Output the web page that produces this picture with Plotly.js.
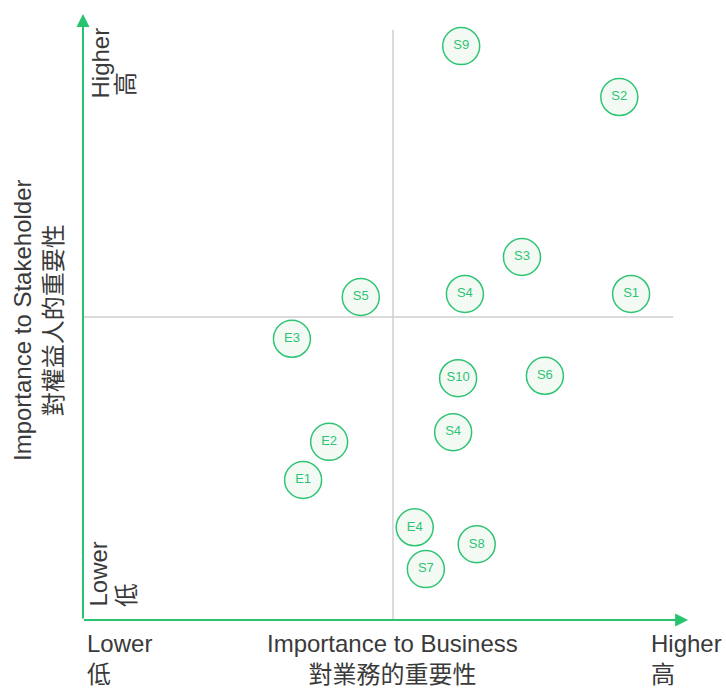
<!DOCTYPE html>
<html>
<head>
<meta charset="utf-8">
<script src="https://cdn.plot.ly/plotly-3.0.1.min.js"></script>
<style>html,body{margin:0;padding:0;background:#fff;}#chart{width:726px;height:689px;}</style>
</head>
<body>
<div id="chart"></div>
<script>
// Data (business importance on x, stakeholder importance on y, 0-10 scale)
const labels = ['S9','S2','S3','S5','S4','S1','E3','S10','S6','S4','E2','E1','E4','S8','S7'];
const businessImportance = [6.10, 8.65, 7.08, 4.48, 6.16, 8.84, 3.37, 6.05, 7.45, 5.97, 3.97, 3.55, 5.35, 6.35, 5.53];
const stakeholderImportance = [9.47, 8.63, 5.99, 5.33, 5.38, 5.38, 4.64, 3.99, 4.03, 3.10, 2.94, 2.31, 1.53, 1.25, 0.84];

const GREEN = '#27c36f';
const FONT = 'Liberation Sans, Arial, Noto Sans CJK TC, sans-serif';
const TEXTC = '#3a3a3a';

// paper helpers: plot area is 620 x 606 px, left 83, bottom 620
const px = v => (v - 83) / 620;
const py = v => (620 - v) / 606;

const trace = {
  type: 'scatter',
  mode: 'markers+text',
  x: businessImportance,
  y: stakeholderImportance,
  text: labels,
  textposition: 'middle center',
  textfont: {family: FONT, size: 13, color: '#2fc474'},
  marker: {size: 37, color: '#f3faf4', line: {color: '#2fc474', width: 1.5}},
  hoverinfo: 'text',
  cliponaxis: false
};

function lbl(text, x, y, xa, ya, align, angle) {
  return {xref: 'paper', yref: 'paper', x: x, y: y, xanchor: xa, yanchor: ya, align: align,
          textangle: angle || 0, showarrow: false, text: text,
          font: {family: FONT, size: 24, color: TEXTC}};
}

const layout = {
  width: 726, height: 689,
  margin: {l: 83, r: 23, t: 14, b: 69},
  paper_bgcolor: '#ffffff', plot_bgcolor: '#ffffff',
  showlegend: false,
  xaxis: {range: [0, 10], showgrid: false, zeroline: false, showticklabels: false, ticks: '', showline: false, fixedrange: true},
  yaxis: {range: [0, 10], showgrid: false, zeroline: false, showticklabels: false, ticks: '', showline: false, fixedrange: true},
  shapes: [
    {type: 'line', xref: 'x', yref: 'y', x0: 5, x1: 5, y0: 0, y1: 9.74, line: {color: '#cfcfcf', width: 1.5}, layer: 'below'},
    {type: 'line', xref: 'x', yref: 'y', x0: 0, x1: 9.52, y0: 5, y1: 5, line: {color: '#cfcfcf', width: 1.5}, layer: 'below'}
  ],
  annotations: [
    // axis arrows
    {xref: 'x', yref: 'y', axref: 'x', ayref: 'y', x: 0, y: 10.0, ax: 0, ay: 0, text: '', showarrow: true,
     arrowhead: 2, arrowsize: 1.3, arrowwidth: 2, arrowcolor: GREEN, standoff: 0, startstandoff: 0},
    {xref: 'x', yref: 'y', axref: 'x', ayref: 'y', x: 9.76, y: 0, ax: -0.01, ay: 0, text: '', showarrow: true,
     arrowhead: 2, arrowsize: 1.3, arrowwidth: 2, arrowcolor: GREEN, standoff: 0, startstandoff: 0},
    // x labels
    lbl('Lower<br>低', px(85), py(628), 'left', 'top', 'left'),
    lbl('Importance to Business<br>對業務的重要性', px(392), py(628), 'center', 'top', 'center'),
    lbl('Higher<br>高', px(649), py(628), 'left', 'top', 'left'),
    // y labels (rotated)
    lbl('Higher', px(100), py(101), 'center', 'bottom', 'left', -90),
    lbl('高', px(125), py(98), 'center', 'bottom', 'left', -90),
    lbl('Lower', px(98), py(609), 'center', 'bottom', 'left', -90),
    lbl('低', px(126), py(609), 'center', 'bottom', 'left', -90),
    lbl('Importance to Stakeholder<br>對權益人的重要性', px(38), py(320), 'center', 'middle', 'center', -90)
  ]
};

Plotly.newPlot('chart', [trace], layout, {displayModeBar: false, staticPlot: true});
</script>
</body>
</html>
